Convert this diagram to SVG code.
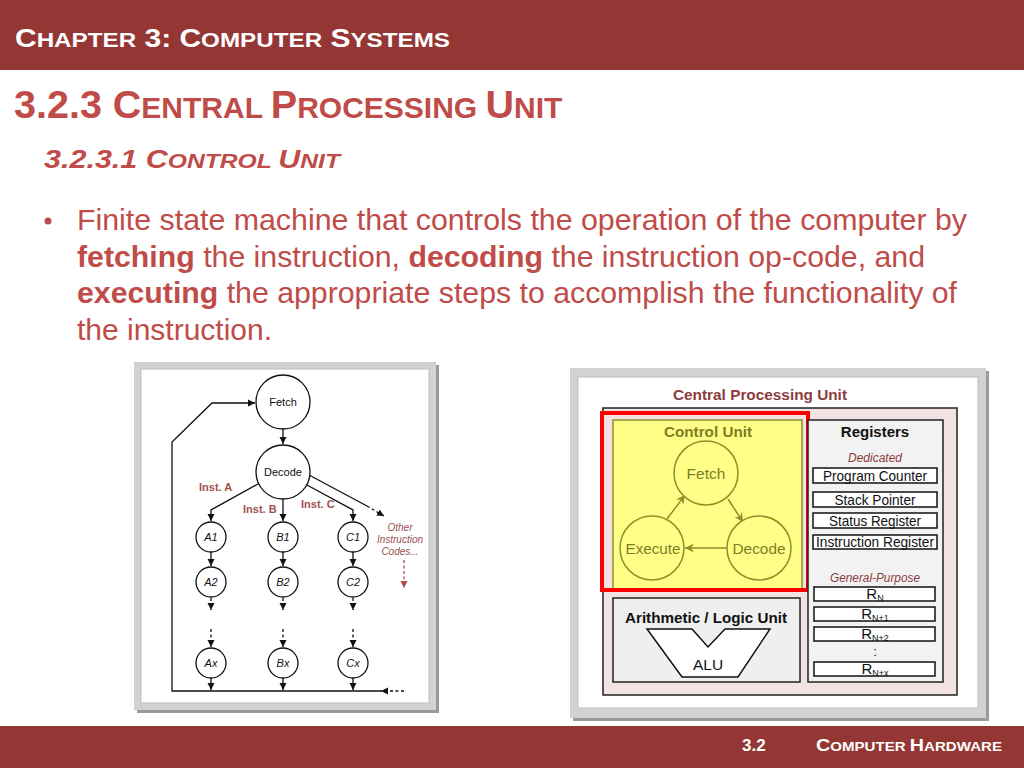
<svg xmlns="http://www.w3.org/2000/svg" width="1024" height="768" viewBox="0 0 1024 768">
<style>
.hd{font-family:"Liberation Sans",Arial,sans-serif;font-weight:bold;fill:#ffffff}
.ttl{font-family:"Liberation Sans",Arial,sans-serif;font-weight:bold;fill:#bf4c49}
.body{font-family:"Liberation Sans",Arial,sans-serif;font-size:29px;fill:#bf4c49}
.f{font-family:"Liberation Sans",Arial,sans-serif;font-size:11px;fill:#111;text-anchor:middle}
.fi{font-family:"Liberation Sans",Arial,sans-serif;font-size:11px;font-style:italic;fill:#111;text-anchor:middle}
.lab{font-family:"Liberation Sans",Arial,sans-serif;font-size:11px;font-weight:bold;fill:#a05252}
.oth{font-family:"Liberation Sans",Arial,sans-serif;font-size:10px;font-style:italic;fill:#9a5050;text-anchor:middle}
.st{fill:#fff;stroke:#111;stroke-width:1.3}
.ln{fill:none;stroke:#111;stroke-width:1.3}
.dash{fill:none;stroke:#111;stroke-width:1.3;stroke-dasharray:3 2.5}
.cu{font-family:"Liberation Sans",Arial,sans-serif;fill:#7d7d24;text-anchor:middle}
.blk{font-family:"Liberation Sans",Arial,sans-serif;fill:#111;text-anchor:middle}
.red{font-family:"Liberation Sans",Arial,sans-serif;fill:#8c3c3c;text-anchor:middle}
.yc{fill:#ffff88;stroke:#8f8f2a;stroke-width:1.5}
.reg{fill:#fff;stroke:#111;stroke-width:1.5}
</style>
<defs>
<marker id="ah" markerUnits="userSpaceOnUse" markerWidth="8" markerHeight="8" refX="7" refY="4" orient="auto"><path d="M0,0.5 L7,4 L0,7.5 z" fill="#111"/></marker>
<marker id="ahr" markerUnits="userSpaceOnUse" markerWidth="8" markerHeight="8" refX="7" refY="4" orient="auto"><path d="M0,0.5 L7,4 L0,7.5 z" fill="#b04a4a"/></marker>
<marker id="aho" markerUnits="userSpaceOnUse" markerWidth="10" markerHeight="10" refX="9" refY="5" orient="auto"><path d="M0,0.5 L9,5 L0,9.5 L3,5 z" fill="#8f8f2a"/></marker>
</defs>

<!-- header -->
<rect x="0" y="0" width="1024" height="70" fill="#943634"/>
<text class="hd" x="15" y="47" textLength="435" lengthAdjust="spacingAndGlyphs"><tspan font-size="26">C</tspan><tspan font-size="21">HAPTER</tspan><tspan font-size="26"> 3: C</tspan><tspan font-size="21">OMPUTER</tspan><tspan font-size="26"> S</tspan><tspan font-size="21">YSTEMS</tspan></text>

<text class="ttl" x="14" y="118"><tspan font-size="39.5">3.2.3 C</tspan><tspan font-size="30">ENTRAL </tspan><tspan font-size="39.5">P</tspan><tspan font-size="30">ROCESSING </tspan><tspan font-size="39.5">U</tspan><tspan font-size="30">NIT</tspan></text>

<text class="ttl" x="44" y="168" font-style="italic" textLength="296" lengthAdjust="spacingAndGlyphs"><tspan font-size="26">3.2.3.1 C</tspan><tspan font-size="21">ONTROL </tspan><tspan font-size="26">U</tspan><tspan font-size="21">NIT</tspan></text>

<circle cx="48" cy="221" r="3.5" fill="#bf4c49"/>
<text class="body" x="77" y="230" textLength="890" lengthAdjust="spacingAndGlyphs">Finite state machine that controls the operation of the computer by</text>
<text class="body" x="77" y="267" textLength="848" lengthAdjust="spacingAndGlyphs"><tspan font-weight="bold">fetching</tspan> the instruction, <tspan font-weight="bold">decoding</tspan> the instruction op-code, and</text>
<text class="body" x="77" y="303" textLength="880" lengthAdjust="spacingAndGlyphs"><tspan font-weight="bold">executing</tspan> the appropriate steps to accomplish the functionality of</text>
<text class="body" x="77" y="340" textLength="195" lengthAdjust="spacingAndGlyphs">the instruction.</text>

<!-- left image frame -->
<g id="left-frame">
<rect x="137" y="365" width="302" height="348" fill="#9a9a9a"/>
<rect x="134" y="362" width="302" height="348" fill="#d2d2d2"/>
<rect x="141" y="369" width="288" height="334" fill="#ffffff" stroke="#bdbdbd" stroke-width="1"/>
</g>

<g id="fsm-connectors">
<line class="ln" x1="283" y1="429" x2="283" y2="444" marker-end="url(#ah)"/>
<path class="ln" d="M258,484 L211,510 L211,521" marker-end="url(#ah)"/>
<line class="ln" x1="283" y1="499" x2="283" y2="521" marker-end="url(#ah)"/>
<path class="ln" d="M307,485 L353,510 L353,521" marker-end="url(#ah)"/>
<line class="ln" x1="309" y1="475" x2="367" y2="506"/>
<line class="dash" x1="367" y1="506" x2="384" y2="516" marker-end="url(#ah)"/>
<line class="ln" x1="211" y1="552" x2="211" y2="566" marker-end="url(#ah)"/>
<line class="ln" x1="283" y1="552" x2="283" y2="566" marker-end="url(#ah)"/>
<line class="ln" x1="353" y1="552" x2="353" y2="566" marker-end="url(#ah)"/>
<line class="dash" x1="211" y1="598" x2="211" y2="610" marker-end="url(#ah)"/>
<line class="dash" x1="283" y1="598" x2="283" y2="610" marker-end="url(#ah)"/>
<line class="dash" x1="353" y1="598" x2="353" y2="610" marker-end="url(#ah)"/>
<line class="dash" x1="211" y1="629" x2="211" y2="647" marker-end="url(#ah)"/>
<line class="dash" x1="283" y1="629" x2="283" y2="647" marker-end="url(#ah)"/>
<line class="dash" x1="353" y1="629" x2="353" y2="647" marker-end="url(#ah)"/>
<line class="ln" x1="211" y1="678" x2="211" y2="690" marker-end="url(#ah)"/>
<line class="ln" x1="283" y1="678" x2="283" y2="690" marker-end="url(#ah)"/>
<line class="ln" x1="353" y1="678" x2="353" y2="690" marker-end="url(#ah)"/>
<path class="ln" d="M382,691 L172,691 L172,442 L212,403 L255,403" marker-end="url(#ah)"/>
<line class="dash" x1="404" y1="691" x2="381" y2="691" marker-end="url(#ah)"/>
<line x1="404" y1="560" x2="404" y2="588" stroke="#b04a4a" stroke-width="1.3" stroke-dasharray="3 2.5" marker-end="url(#ahr)"/>
</g>

<g id="fsm-fetch"><circle class="st" cx="283" cy="402" r="27"/><text class="f" x="283" y="406">Fetch</text></g>
<g id="fsm-decode"><circle class="st" cx="283" cy="472" r="27"/><text class="f" x="283" y="476">Decode</text></g>
<g id="fsm-a1"><circle class="st" cx="211" cy="537" r="15"/><text class="fi" x="211" y="541">A1</text></g>
<g id="fsm-b1"><circle class="st" cx="283" cy="537" r="15"/><text class="fi" x="283" y="541">B1</text></g>
<g id="fsm-c1"><circle class="st" cx="353" cy="537" r="15"/><text class="fi" x="353" y="541">C1</text></g>
<g id="fsm-a2"><circle class="st" cx="211" cy="582" r="15"/><text class="fi" x="211" y="586">A2</text></g>
<g id="fsm-b2"><circle class="st" cx="283" cy="582" r="15"/><text class="fi" x="283" y="586">B2</text></g>
<g id="fsm-c2"><circle class="st" cx="353" cy="582" r="15"/><text class="fi" x="353" y="586">C2</text></g>
<g id="fsm-ax"><circle class="st" cx="211" cy="663" r="15"/><text class="fi" x="211" y="667">Ax</text></g>
<g id="fsm-bx"><circle class="st" cx="283" cy="663" r="15"/><text class="fi" x="283" y="667">Bx</text></g>
<g id="fsm-cx"><circle class="st" cx="353" cy="663" r="15"/><text class="fi" x="353" y="667">Cx</text></g>
<g id="fsm-labels">
<text class="lab" x="199" y="491">Inst. A</text>
<text class="lab" x="243" y="513">Inst. B</text>
<text class="lab" x="301" y="508">Inst. C</text>
<text class="oth" x="400" y="531">Other</text>
<text class="oth" x="400" y="543">Instruction</text>
<text class="oth" x="400" y="555">Codes...</text>
</g>

<!-- right image frame -->
<g id="right-frame">
<rect x="573" y="371" width="416" height="350" fill="#9a9a9a"/>
<rect x="570" y="368" width="416" height="350" fill="#d2d2d2"/>
<rect x="578" y="377" width="400" height="331" fill="#ffffff" stroke="#bdbdbd" stroke-width="1"/>
</g>

<g id="cpu">
<text class="red" x="760" y="400" font-size="14.5" font-weight="bold" textLength="174" lengthAdjust="spacingAndGlyphs">Central Processing Unit</text>
<rect x="603" y="408" width="354" height="287" fill="#f3e2e2" stroke="#222" stroke-width="1.5"/>
</g>

<g id="control-unit">
<rect x="613" y="420" width="189" height="171" fill="#ffff88" stroke="#8f8f2a" stroke-width="1.5"/>
<text class="cu" x="708" y="437" font-size="14.5" font-weight="bold" textLength="88" lengthAdjust="spacingAndGlyphs">Control Unit</text>
</g>
<g id="cu-connectors">
<line x1="667" y1="519" x2="685" y2="495" stroke="#8f8f2a" stroke-width="1.5" marker-end="url(#aho)"/>
<line x1="728" y1="499" x2="743" y2="522" stroke="#8f8f2a" stroke-width="1.5" marker-end="url(#aho)"/>
<line x1="727" y1="548" x2="685" y2="548" stroke="#8f8f2a" stroke-width="1.5" marker-end="url(#aho)"/>
</g>
<g id="cu-fetch"><circle class="yc" cx="706" cy="473" r="32"/><text class="cu" x="706" y="479" font-size="15.5">Fetch</text></g>
<g id="cu-execute"><circle class="yc" cx="652" cy="548" r="32"/><text class="cu" x="653" y="554" font-size="15.5" textLength="55" lengthAdjust="spacingAndGlyphs">Execute</text></g>
<g id="cu-decode"><circle class="yc" cx="759" cy="548" r="32"/><text class="cu" x="759" y="554" font-size="15.5" textLength="53" lengthAdjust="spacingAndGlyphs">Decode</text></g>
<rect x="602" y="413" width="206" height="177" fill="none" stroke="#ff0000" stroke-width="4"/>

<g id="alu">
<rect x="613" y="598" width="187" height="84" fill="#efefef" stroke="#222" stroke-width="1.5"/>
<text class="blk" x="706" y="623" font-size="15" font-weight="bold" textLength="162" lengthAdjust="spacingAndGlyphs">Arithmetic / Logic Unit</text>
<polygon points="647,629 692,629 708,647 725,629 770,629 738,677 682,677" fill="#fff" stroke="#111" stroke-width="1.5"/>
<text class="blk" x="708" y="670" font-size="15.5">ALU</text>
</g>

<g id="registers">
<rect x="808" y="420" width="135" height="262" fill="#f2f2f2" stroke="#222" stroke-width="1.5"/>
<text class="blk" x="875" y="437" font-size="15" font-weight="bold">Registers</text>
<text class="red" x="875" y="462" font-size="12" font-style="italic">Dedicated</text>
<rect class="reg" x="813" y="468" width="124" height="15"/>
<text class="blk" x="875" y="481" font-size="15" textLength="104" lengthAdjust="spacingAndGlyphs">Program Counter</text>
<rect class="reg" x="813" y="492" width="124" height="15"/>
<text class="blk" x="875" y="505" font-size="15" textLength="81" lengthAdjust="spacingAndGlyphs">Stack Pointer</text>
<rect class="reg" x="813" y="513" width="124" height="15"/>
<text class="blk" x="875" y="526" font-size="15" textLength="92" lengthAdjust="spacingAndGlyphs">Status Register</text>
<rect class="reg" x="813" y="535" width="124" height="14"/>
<text class="blk" x="875" y="547" font-size="15" textLength="118" lengthAdjust="spacingAndGlyphs">Instruction Register</text>
<text class="red" x="875" y="582" font-size="12" font-style="italic" textLength="90" lengthAdjust="spacingAndGlyphs">General-Purpose</text>
<rect class="reg" x="814" y="587" width="121" height="14"/>
<text class="blk" x="875" y="599" font-size="15">R<tspan font-size="9" dy="2">N</tspan></text>
<rect class="reg" x="814" y="607" width="121" height="14"/>
<text class="blk" x="875" y="619" font-size="15">R<tspan font-size="9" dy="2">N+1</tspan></text>
<rect class="reg" x="814" y="627" width="121" height="14"/>
<text class="blk" x="875" y="639" font-size="15">R<tspan font-size="9" dy="2">N+2</tspan></text>
<text class="blk" x="875" y="656" font-size="13">:</text>
<rect class="reg" x="814" y="662" width="121" height="14"/>
<text class="blk" x="875" y="674" font-size="15">R<tspan font-size="9" dy="2">N+x</tspan></text>
</g>

<!-- footer -->
<rect x="0" y="726" width="1024" height="42" fill="#943634"/>
<text class="hd" x="742" y="751" font-size="17">3.2</text>
<text class="hd" x="816" y="751" textLength="186" lengthAdjust="spacingAndGlyphs"><tspan font-size="17">C</tspan><tspan font-size="13">OMPUTER </tspan><tspan font-size="17">H</tspan><tspan font-size="13">ARDWARE</tspan></text>
</svg>
